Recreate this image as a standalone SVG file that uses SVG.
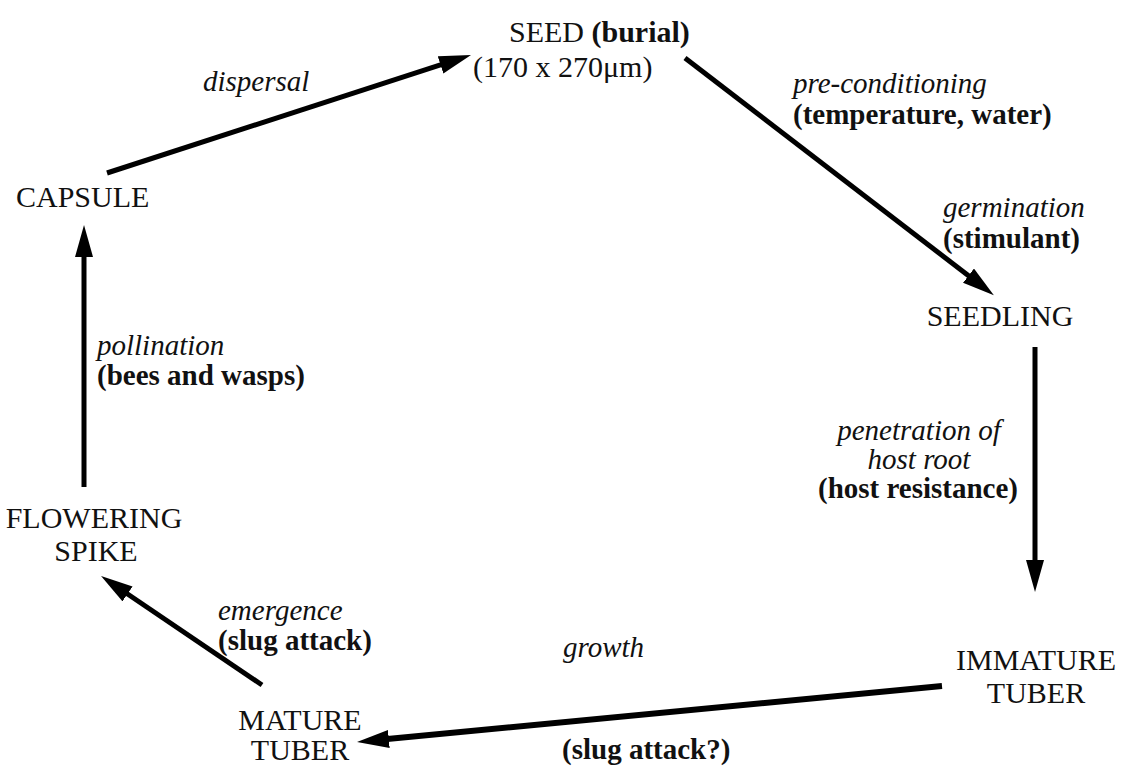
<svg xmlns="http://www.w3.org/2000/svg" width="1129" height="767" viewBox="0 0 1129 767">
<style>
text{font-family:"Liberation Serif","Times New Roman",serif;fill:#111;}
.n{font-size:30px;}
.l{font-size:29px;}
.i{font-style:italic;}
.b{font-weight:bold;}
.c{text-anchor:middle;}
.a{stroke:#000;stroke-width:5;fill:none;marker-end:url(#ah);}
</style>
<defs>
<marker id="ah" markerUnits="userSpaceOnUse" markerWidth="34" markerHeight="20" viewBox="0 0 34 20" refX="12" refY="9" orient="auto">
<path d="M0,0 L32,9 L0,18 Z" fill="#000"/>
</marker>
</defs>
<rect width="1129" height="767" fill="#fff"/>
<g id="connectors">
<line class="a" x1="107" y1="173" x2="452" y2="61.2"/>
<line class="a" x1="685" y1="58" x2="978" y2="283"/>
<line class="a" x1="1035" y1="347" x2="1035" y2="572"/>
<line class="a" x1="942" y1="686" x2="376.9" y2="740.1" style="stroke-width:6"/>
<line class="a" x1="262" y1="685" x2="117.6" y2="587.2"/>
<line class="a" x1="84" y1="487" x2="84" y2="245"/>
</g>
<g id="seed">
<text class="n" x="509" y="42">SEED <tspan class="b">(burial)</tspan></text>
<text class="n" x="473" y="77">(170 x 270μm)</text>
</g>
<g id="seedling"><text class="n c" x="1000" y="326">SEEDLING</text></g>
<g id="immature-tuber">
<text class="n c" x="1036" y="670">IMMATURE</text>
<text class="n c" x="1036" y="703">TUBER</text>
</g>
<g id="mature-tuber">
<text class="n c" x="300" y="730">MATURE</text>
<text class="n c" x="300" y="760">TUBER</text>
</g>
<g id="flowering-spike">
<text class="n c" x="94" y="528">FLOWERING</text>
<text class="n c" x="96" y="561">SPIKE</text>
</g>
<g id="capsule"><text class="n" x="16" y="207">CAPSULE</text></g>
<g id="labels">
<text class="l i" x="203" y="91">dispersal</text>
<text class="l i" x="793" y="93">pre-conditioning</text>
<text class="l b" x="793" y="124">(temperature, water)</text>
<text class="l i" x="943" y="217">germination</text>
<text class="l b" x="943" y="248">(stimulant)</text>
<text class="l i c" x="919" y="440">penetration of</text>
<text class="l i c" x="919" y="469">host root</text>
<text class="l b c" x="918" y="498">(host resistance)</text>
<text class="l i" x="563" y="657">growth</text>
<text class="l b" x="562" y="759">(slug attack?)</text>
<text class="l i" x="218" y="620">emergence</text>
<text class="l b" x="218" y="650">(slug attack)</text>
<text class="l i" x="97" y="355">pollination</text>
<text class="l b" x="97" y="385">(bees and wasps)</text>
</g>
</svg>
